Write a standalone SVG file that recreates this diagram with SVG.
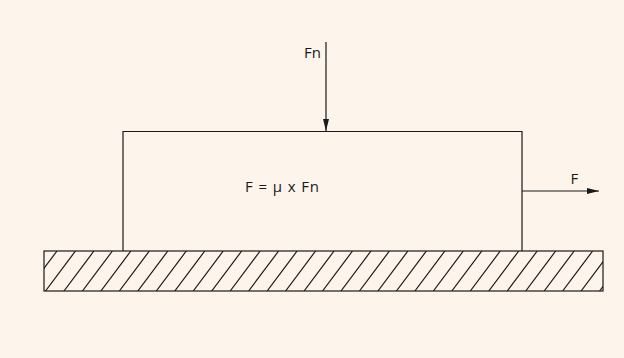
<svg xmlns="http://www.w3.org/2000/svg" width="624" height="358" viewBox="0 0 624 358">
<style>
.ln{fill:none;stroke:#1a1a1a;stroke-width:1.2}
.lbl{font-family:"Open Sans","Noto Sans",sans-serif;font-size:15px;fill:#1a1a1a}
</style>
<defs>
<marker id="ah" viewBox="0 0 12 6" refX="12" refY="3" markerWidth="12" markerHeight="6" markerUnits="userSpaceOnUse" orient="auto">
<path d="M0,0 L12,3 L0,6 Z" fill="#1a1a1a"/>
</marker>
<clipPath id="gclip"><rect x="44" y="251" width="559" height="40"/></clipPath>
</defs>
<rect width="624" height="358" fill="#FDF5EC"/>
<g id="ground">
<g clip-path="url(#gclip)">
<path class="ln" d="M8.53,291L38.53,251M27,291L57,251M45.47,291L75.47,251M63.94,291L93.94,251M82.41,291L112.41,251M100.88,291L130.88,251M119.35,291L149.35,251M137.82,291L167.82,251M156.29,291L186.29,251M174.76,291L204.76,251M193.23,291L223.23,251M211.7,291L241.7,251M230.17,291L260.17,251M248.64,291L278.64,251M267.11,291L297.11,251M285.58,291L315.58,251M304.05,291L334.05,251M322.52,291L352.52,251M340.99,291L370.99,251M359.46,291L389.46,251M377.93,291L407.93,251M396.4,291L426.4,251M414.87,291L444.87,251M433.34,291L463.34,251M451.81,291L481.81,251M470.28,291L500.28,251M488.75,291L518.75,251M507.22,291L537.22,251M525.69,291L555.69,251M544.16,291L574.16,251M562.63,291L592.63,251M581.1,291L611.1,251M599.57,291L629.57,251"/>
</g>
<rect class="ln" x="44" y="251" width="559" height="40"/>
</g>
<g id="block">
<path class="ln" d="M123,251V131.5H522V251"/>
<text class="lbl" x="245" y="192" textLength="74" lengthAdjust="spacing">F = μ x Fn</text>
</g>
<g id="connectors">
<line class="ln" x1="326" y1="42" x2="326" y2="131" marker-end="url(#ah)"/>
<line class="ln" x1="522" y1="191" x2="599" y2="191" marker-end="url(#ah)"/>
</g>
<g id="labels">
<text class="lbl" x="304" y="57.5">Fn</text>
<text class="lbl" x="570.5" y="183.5">F</text>
</g>
</svg>
